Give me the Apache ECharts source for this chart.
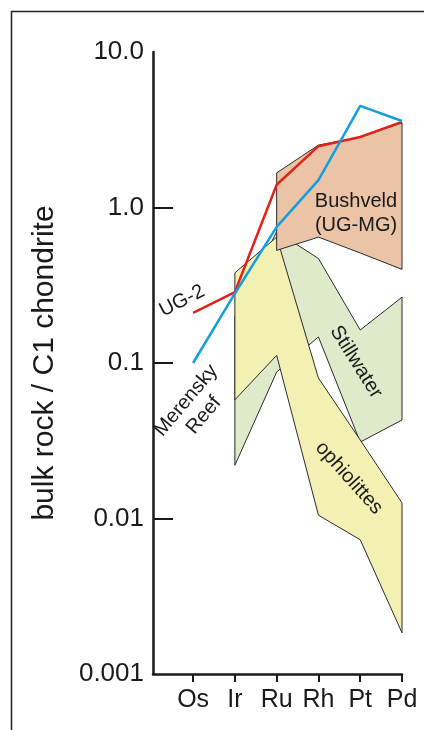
<!DOCTYPE html>
<html>
<head>
<meta charset="utf-8">
<title>PGE patterns</title>
<script src="https://cdn.jsdelivr.net/npm/echarts@6/dist/echarts.min.js"></script>
<style>
  html, body { margin: 0; padding: 0; background: #fff; }
  #main { width: 424px; height: 730px; }
</style>
</head>
<body>
<div id="main"></div>
<script>
// elements on the x axis
var elements = ['Os', 'Ir', 'Ru', 'Rh', 'Pt', 'Pd'];
var yTicks = [0.001, 0.01, 0.1, 1, 10];
var yTickLabels = ['0.001', '0.01', '0.1', '1.0', '10.0'];

// lines (bulk rock / C1 chondrite)
var ug2 = [0.21, 0.286, 1.4, 2.48, 2.84, 3.55];
var merensky = [0.1, 0.28, 0.75, 1.5, 4.5, 3.6];

// fields: upper and lower bounds, null = field absent
var bushveldUpper = [null, null, 1.67, 2.52, 2.84, 3.5];
var bushveldLower = [null, null, 0.53, 0.645, 0.51, 0.40];
var stillwaterUpper = [null, 0.2, 0.7, 0.47, 0.163, 0.265];
var stillwaterLower = [null, 0.022, 0.0875, 0.147, 0.031, 0.043];
var ophioliteUpper = [null, 0.38, 0.645, 0.080, 0.032, 0.0126];
var ophioliteLower = [null, 0.058, 0.112, 0.0105, 0.0073, 0.00184];

function toPairs(arr) {
  var out = [];
  arr.forEach(function (v, i) { if (v != null) out.push([i, v]); });
  return out;
}

// one polygon per field, built from its upper and lower bounds
function fieldSeries(name, upper, lower, fill) {
  var rows = [];
  upper.forEach(function (v, i) {
    if (v != null) rows.push([i, lower[i], v]);
  });
  return {
    name: name,
    type: 'custom',
    data: rows,
    encode: { x: 0, y: [1, 2] },
    silent: true,
    renderItem: function (params, api) {
      if (params.dataIndex !== 0) return null;
      var pts = [];
      rows.forEach(function (r) { pts.push(api.coord([r[0], r[2]])); });
      for (var k = rows.length - 1; k >= 0; k--) {
        pts.push(api.coord([rows[k][0], rows[k][1]]));
      }
      return {
        type: 'polygon',
        shape: { points: pts },
        style: { fill: fill, stroke: '#2b2b2b', lineWidth: 1 }
      };
    }
  };
}

var chart = echarts.init(document.getElementById('main'));
var font = 'Liberation Sans, Arial, sans-serif';
var txt = { fontFamily: font, fontSize: 20, fill: '#1a1a1a' };

var option = {
  animation: false,
  backgroundColor: '#fff',
  grid: { left: 153, right: 22, top: 52, bottom: 56 },
  xAxis: {
    type: 'value',
    min: -0.96,
    max: 5,
    splitLine: { show: false },
    axisLine: { onZero: false, lineStyle: { color: '#1a1a1a', width: 2.5 } },
    axisTick: { customValues: [0, 1, 2, 3, 4, 5], length: 8, lineStyle: { color: '#1a1a1a', width: 2 } },
    axisLabel: {
      customValues: [0, 1, 2, 3, 4, 5],
      margin: 14,
      fontSize: 25,
      color: '#1a1a1a',
      fontFamily: font,
      formatter: function (v) { return elements[v] || ''; }
    }
  },
  yAxis: {
    type: 'log',
    logBase: 10,
    min: 0.001,
    max: 10,
    name: 'bulk rock / C1 chondrite',
    nameLocation: 'middle',
    nameGap: 93,
    nameTextStyle: { fontSize: 30, color: '#1a1a1a', fontFamily: font },
    splitLine: { show: false },
    axisLine: { show: true, onZero: false, lineStyle: { color: '#1a1a1a', width: 2.5 } },
    axisTick: { inside: true, length: 20, customValues: [0.01, 0.1, 1], lineStyle: { color: '#1a1a1a', width: 2 } },
    axisLabel: {
      margin: 9,
      fontSize: 26,
      color: '#1a1a1a',
      fontFamily: font,
      formatter: function (v) {
        for (var i = 0; i < yTicks.length; i++) {
          if (Math.abs(Math.log10(yTicks[i]) - Math.log10(v)) < 1e-6) return yTickLabels[i];
        }
        return '';
      }
    }
  },
  graphic: [
    { type: 'rect', z: -1, shape: { x: 11.5, y: 11.5, width: 700, height: 900 }, style: { fill: 'none', stroke: '#222', lineWidth: 1.5 } },
    { type: 'text', x: 356, y: 213, z: 10, style: Object.assign({}, txt, { text: 'Bushveld\n(UG-MG)', align: 'center', verticalAlign: 'middle', lineHeight: 24 }) },
    { type: 'text', x: 356, y: 362, z: 10, rotation: -58 * Math.PI / 180, style: Object.assign({}, txt, { text: 'Stillwater', align: 'center', verticalAlign: 'middle' }) },
    { type: 'text', x: 349, y: 478, z: 10, rotation: -48 * Math.PI / 180, style: Object.assign({}, txt, { text: 'ophiolittes', align: 'center', verticalAlign: 'middle' }) },
    { type: 'text', x: 182, y: 301, z: 10, rotation: 27 * Math.PI / 180, style: Object.assign({}, txt, { text: 'UG-2', align: 'center', verticalAlign: 'middle' }) },
    { type: 'text', x: 195, y: 408, z: 10, rotation: 50 * Math.PI / 180, style: Object.assign({}, txt, { text: 'Merensky\nReef', align: 'center', verticalAlign: 'middle', lineHeight: 23 }) }
  ],
  series: [
    fieldSeries('Stillwater', stillwaterUpper, stillwaterLower, '#deeac9'),
    fieldSeries('ophiolittes', ophioliteUpper, ophioliteLower, '#f3f0b3'),
    fieldSeries('Bushveld', bushveldUpper, bushveldLower, '#ebc3a6'),
    {
      name: 'UG-2',
      type: 'line',
      data: toPairs(ug2),
      symbol: 'none',
      lineStyle: { color: '#e2231a', width: 2.5 },
      z: 5
    },
    {
      name: 'Merensky Reef',
      type: 'line',
      data: toPairs(merensky),
      symbol: 'none',
      lineStyle: { color: '#139fdf', width: 2.5 },
      z: 5
    }
  ]
};

chart.setOption(option);
</script>
</body>
</html>
